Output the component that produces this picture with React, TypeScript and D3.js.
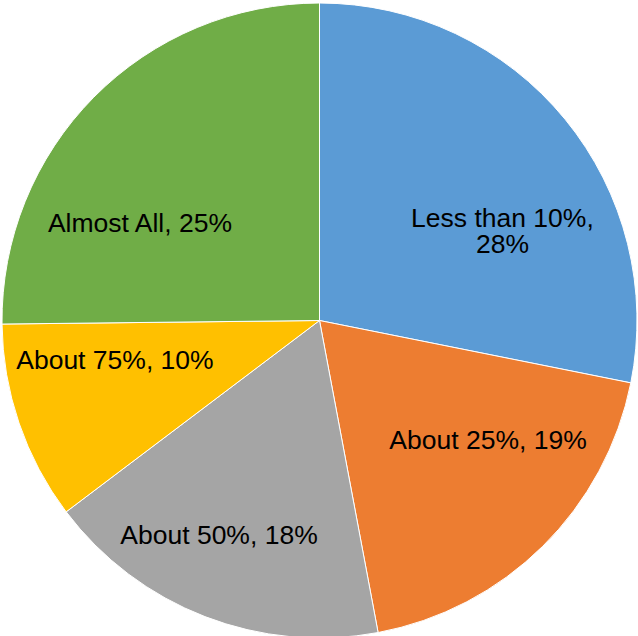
import React from "react";
import * as d3 from "d3";

const categories = ["Less than 10%", "About 25%", "About 50%", "About 75%", "Almost All"];
const values = [28.15, 18.9, 17.66, 10.12, 25.18];
const valueLabels = ["28%", "19%", "18%", "10%", "25%"];
const colors = ["#5B9BD5", "#ED7D31", "#A5A5A5", "#FFC000", "#70AD47"];

// label placement (polar, degrees clockwise from top, px from center)
const labelAngles = [63.8, 125.35, 205.1, 259.1, 298.5];
const labelRadii = [203.9, 206.6, 236.9, 208.3, 204.3];
const labelWrap = [true, false, false, false, false];

const W = 638;
const H = 636;
const CX = 319.5;
const CY = 320.5;
const R = 317.5;
const FS = 26.5;

export default function App() {
  const pie = d3.pie<number>().sort(null).value((d) => d).startAngle(0).endAngle(2 * Math.PI);
  const arcs = pie(values);
  const arc = d3.arc<d3.PieArcDatum<number>>().innerRadius(0).outerRadius(R);
  return (
    <svg
      width={W}
      height={H}
      style={{ position: "absolute", left: 0, top: 0, background: "#fff" }}
      fontFamily="'Liberation Sans', Arial, sans-serif"
    >
      <g transform={`translate(${CX},${CY})`}>
        {arcs.map((a, i) => (
          <path key={i} d={arc(a) || ""} fill={colors[i]} stroke="#fff" strokeWidth={1} />
        ))}
      </g>
      {arcs.map((a, i) => {
        const ang = (labelAngles[i] * Math.PI) / 180;
        const x = CX + labelRadii[i] * Math.sin(ang);
        const y = CY - labelRadii[i] * Math.cos(ang);
        const cap = 18.6;
        if (labelWrap[i]) {
          return (
            <text key={i} textAnchor="middle" fontSize={FS} fill="#000">
              <tspan x={x} y={y - 13.25 + cap / 2}>{categories[i]},</tspan>
              <tspan x={x} y={y + 13.25 + cap / 2}>{valueLabels[i]}</tspan>
            </text>
          );
        }
        return (
          <text key={i} x={x} y={y + cap / 2} textAnchor="middle" fontSize={FS} fill="#000">
            {`${categories[i]}, ${valueLabels[i]}`}
          </text>
        );
      })}
    </svg>
  );
}
